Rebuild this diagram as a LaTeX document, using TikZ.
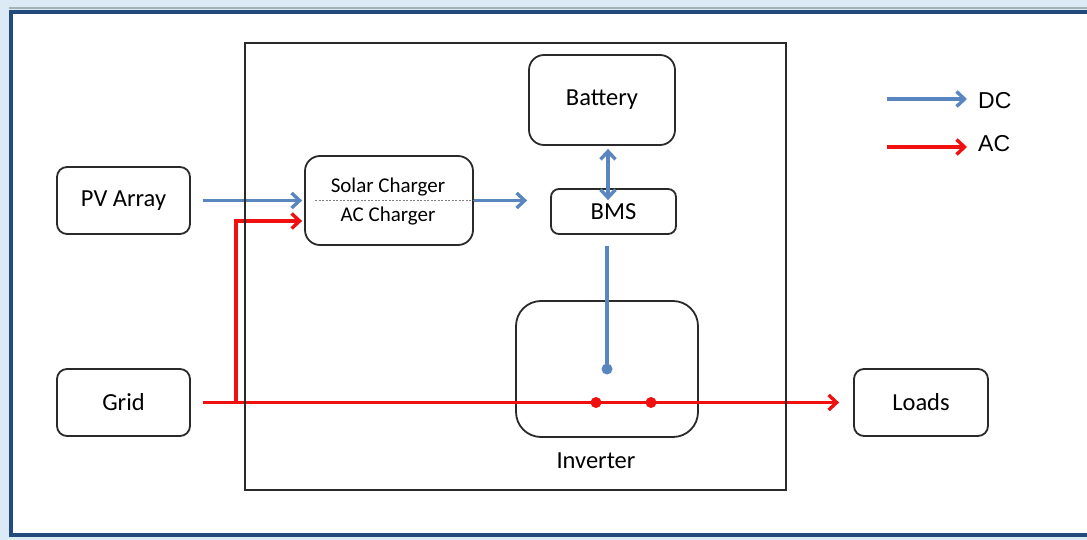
\documentclass[tikz,border=0pt]{standalone}
\usepackage{fontspec}
\setmainfont{Carlito}
\newfontfamily\legendfont{Liberation Sans}
\usetikzlibrary{arrows.meta}
\definecolor{dcblue}{HTML}{5A86BF}
\definecolor{acred}{HTML}{F01010}
\definecolor{navy}{HTML}{234A7C}
\definecolor{paleblue}{HTML}{DCEAF5}
\definecolor{boxline}{HTML}{2A2A2A}
\definecolor{edgegray}{HTML}{A3B3B3}
\begin{document}
\begin{tikzpicture}[x=1pt,y=-1pt,
  blk/.style={draw=boxline, line width=1.8pt, fill=white, rounded corners=#1, inner sep=0pt,
    font=\fontsize{24.5}{28}\selectfont},
  blk/.default=10pt,
  tip/.style={-{Straight Barb[length=8pt,width=15pt]}},
  dcline/.style={draw=dcblue, line width=3.4pt},
  acline/.style={draw=acred, line width=3.4pt},
  lbl/.style={inner sep=0pt, font=\fontsize{24.5}{28}\selectfont},
  smalllbl/.style={inner sep=0pt, font=\fontsize{21}{24}\selectfont},
  legendtext/.style={inner sep=0pt, anchor=west, font=\legendfont\fontsize{23}{26}\selectfont},
  dot/.style={circle, inner sep=0pt, minimum size=11pt}
]
\useasboundingbox (0,0) rectangle (1087,540);
\fill[paleblue] (0,0) rectangle (1087,540);
\draw[edgegray, line width=2pt] (9,8.5) -- (1087,8.5);
\draw[navy, line width=4.5pt, fill=white] (11,12) rectangle (1089,535);

% blocks
\node[blk=10pt, minimum width=133pt, minimum height=67pt] (pv) at (123.5,200.5) {PV Array};
\node[blk=10pt, minimum width=133pt, minimum height=67pt] (grid) at (123.5,402.5) {Grid};
\node[blk=10pt, minimum width=134pt, minimum height=67pt] (loads) at (921,402.5) {Loads};
\node[blk=15pt, minimum width=146pt, minimum height=90pt] (battery) at (602,100) {Battery};
\node[blk=8pt, minimum width=125pt, minimum height=45pt] (bms) at (613.5,211.5) {BMS};
\node[blk=15pt, minimum width=168pt, minimum height=89pt] (charger) at (389,200.5) {};
\node[smalllbl] (solar) at (388,187) {Solar Charger};
\node[smalllbl] (accharger) at (388,216) {AC Charger};
\node[blk=25pt, minimum width=182pt, minimum height=136pt] (inv) at (607,369) {};
\node[lbl] (invlabel) at (596,461) {Inverter};

% coordinates
\coordinate (tee) at ([xshift=45pt]grid.east);
\coordinate (bmsin) at ([xshift=-23pt]bms.west);
\coordinate (battip) at ([xshift=6pt,yshift=-3pt]battery.south);
\coordinate (bmstip) at ([xshift=-5.5pt,yshift=-12pt]bms.north);
\coordinate (bmsout) at ([xshift=-6.5pt,yshift=-11pt]bms.south);

% dashed divider in charger
\draw[gray, line width=1.2pt, dash pattern=on 2pt off 1.5pt] ([xshift=11pt]charger.west) -- (charger.east);

% DC connections
\draw[dcline, tip] ([xshift=12pt]pv.east) -- ([xshift=-2pt]charger.west);
\draw[dcline, tip] (charger.east) -- (bmsin |- charger.east);
\draw[dcline, {Straight Barb[length=8pt,width=15pt]}-{Straight Barb[length=8pt,width=15pt]}] (battip) -- (bmstip);
\draw[dcline] (bmsout) -- (inv.center);
\node[dot, fill=dcblue] (dcdot) at (inv.center) {};

% AC connections
\draw[acline, tip] ([xshift=12pt]grid.east) -- ([xshift=-14pt]loads.west);
\draw[acline, tip] (tee) |- ([xshift=-2pt,yshift=-20.5pt]charger.west);
\node[dot, fill=acred] (acdot1) at ([xshift=-11pt,yshift=-33.5pt]inv.center) {};
\node[dot, fill=acred] (acdot2) at ([xshift=44pt,yshift=-33.5pt]inv.center) {};

% enclosure
\node[draw=boxline, line width=2.5pt, inner sep=0pt, minimum width=541pt, minimum height=447pt] (unit) at (515.5,266.5) {};

% legend
\node[legendtext] (dc) at (978,101) {DC};
\node[legendtext] (ac) at (978,144) {AC};
\draw[dcline, tip] ([xshift=-91pt,yshift=2pt]dc.west) -- ([xshift=-11pt,yshift=2pt]dc.west);
\draw[acline, tip] ([xshift=-91pt,yshift=-3pt]ac.west) -- ([xshift=-11pt,yshift=-3pt]ac.west);
\end{tikzpicture}
\end{document}
